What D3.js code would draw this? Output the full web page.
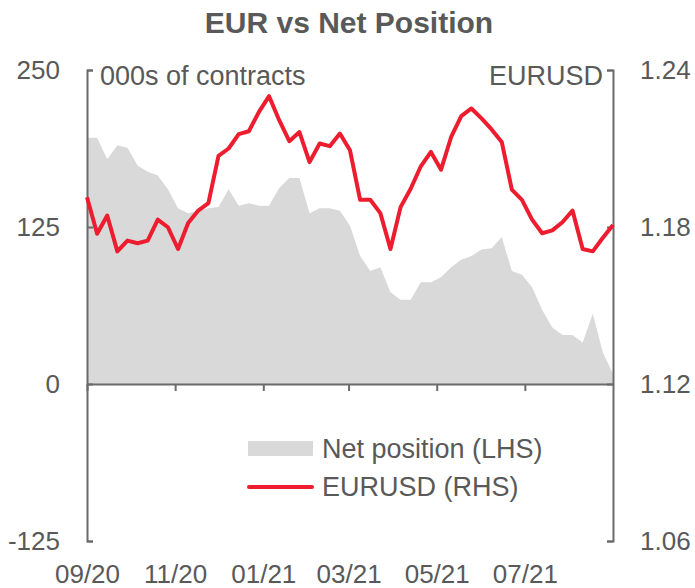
<!DOCTYPE html>
<html>
<head>
<meta charset="utf-8">
<script src="https://cdn.jsdelivr.net/npm/d3@7"></script>
<style>
  body { margin: 0; background: #fff; }
  svg text { font-family: "Liberation Sans", Arial, sans-serif; fill: #595959; }
</style>
</head>
<body>
<svg id="chart" width="695" height="588"></svg>
<script>
// weekly (Tuesday) observations, Sep 2020 - Aug 2021
const weeks = d3.timeTuesday.range(new Date(2020, 8, 1), new Date(2021, 8, 1));

// net position, 000s of contracts (LHS)
const netPosition = [
  196, 196, 179, 190, 188, 174, 169, 166, 155, 140,
  136, 138, 140, 141, 155, 142, 144, 142, 142, 156,
  164, 164, 136, 140, 140, 138, 126, 102, 90, 93,
  73, 67, 67, 81, 81, 85, 93, 99, 102, 107,
  108, 117, 90, 87, 77, 59, 45, 39, 39, 33,
  56, 25, 8
];

// EURUSD (RHS)
const eurusd = [
  1.1914, 1.1774, 1.1844, 1.1707, 1.1748, 1.1738, 1.1748, 1.1828, 1.1799, 1.1716,
  1.1815, 1.1863, 1.1891, 1.2072, 1.2100, 1.2155, 1.2166, 1.2240, 1.2300, 1.2208,
  1.2128, 1.2163, 1.2048, 1.2119, 1.2109, 1.2157, 1.2093, 1.1904, 1.1904, 1.1853,
  1.1716, 1.1876, 1.1946, 1.2032, 1.2087, 1.2019, 1.2144, 1.2224, 1.2253, 1.2215,
  1.2173, 1.2125, 1.1943, 1.1904, 1.1828, 1.1776, 1.1787, 1.1818, 1.1863, 1.1716,
  1.1707, 1.1759, 1.1808
];

const xTickMonths = ["2020-09", "2020-11", "2021-01", "2021-03", "2021-05", "2021-07"];
const leftTicks = [-125, 0, 125, 250];
const rightTicks = [1.06, 1.12, 1.18, 1.24];

const svg = d3.select("#chart");
const x = d3.scaleTime().domain(d3.extent(weeks)).range([87, 613]);
const yL = d3.scaleLinear().domain([-125, 250]).range([541, 70]);
const yR = d3.scaleLinear().domain([1.06, 1.24]).range([541, 70]);

const rows = weeks.map((d, i) => ({ date: d, net: netPosition[i], fx: eurusd[i] }));

// title
svg.append("text")
  .attr("x", 349).attr("y", 33)
  .attr("text-anchor", "middle")
  .style("font-size", "30px").style("font-weight", "bold")
  .text("EUR vs Net Position");

// net position area
svg.append("path")
  .datum(rows)
  .attr("fill", "#d9d9d9")
  .attr("d", d3.area().x(d => x(d.date)).y0(yL(0)).y1(d => yL(d.net)));

function styleAxis(g) {
  g.attr("font-family", null).attr("font-size", null);
  g.selectAll("path, line").attr("stroke", "#6b6b6b").attr("stroke-width", 2);
  g.selectAll("text").style("font-size", "26px").attr("fill", "#595959");
}

// left axis (plain hyphen for negatives, as in the source)
svg.append("g")
  .attr("transform", "translate(87,0)")
  .call(d3.axisLeft(yL).tickValues(leftTicks).tickFormat(d => String(d))
    .tickSize(-6).tickSizeOuter(-6).tickPadding(27))
  .call(styleAxis);

// right axis
svg.append("g")
  .attr("transform", "translate(613,0)")
  .call(d3.axisRight(yR).tickValues(rightTicks).tickFormat(d3.format(".2f"))
    .tickSize(-6).tickSizeOuter(-6).tickPadding(27))
  .call(styleAxis);

// date axis on the zero line
const parseMonth = d3.timeParse("%Y-%m");
svg.append("g")
  .attr("transform", `translate(0,${yL(0)})`)
  .call(d3.axisBottom(x).tickValues(xTickMonths.map(parseMonth))
    .tickFormat(d3.timeFormat("%m/%y")).tickSize(7).tickSizeOuter(0).tickPadding(174))
  .call(styleAxis);

// axis captions
svg.append("text").attr("x", 100).attr("y", 85)
  .style("font-size", "27px").text("000s of contracts");
svg.append("text").attr("x", 603).attr("y", 85)
  .attr("text-anchor", "end")
  .style("font-size", "27px").text("EURUSD");

// EURUSD line
svg.append("path")
  .datum(rows)
  .attr("fill", "none")
  .attr("stroke", "#ed1c2e")
  .attr("stroke-width", 4)
  .attr("stroke-linejoin", "round")
  .attr("d", d3.line().x(d => x(d.date)).y(d => yR(d.fx)));

// legend
const legend = svg.append("g").attr("transform", "translate(248,441)");
legend.append("rect").attr("width", 65).attr("height", 15).attr("fill", "#d9d9d9");
legend.append("text").attr("x", 74).attr("y", 17)
  .style("font-size", "27px").text("Net position (LHS)");
legend.append("line")
  .attr("x1", 1).attr("x2", 64).attr("y1", 46).attr("y2", 46)
  .attr("stroke", "#ed1c2e").attr("stroke-width", 4).attr("stroke-linecap", "round");
legend.append("text").attr("x", 74).attr("y", 55)
  .style("font-size", "27px").text("EURUSD (RHS)");
</script>
</body>
</html>
